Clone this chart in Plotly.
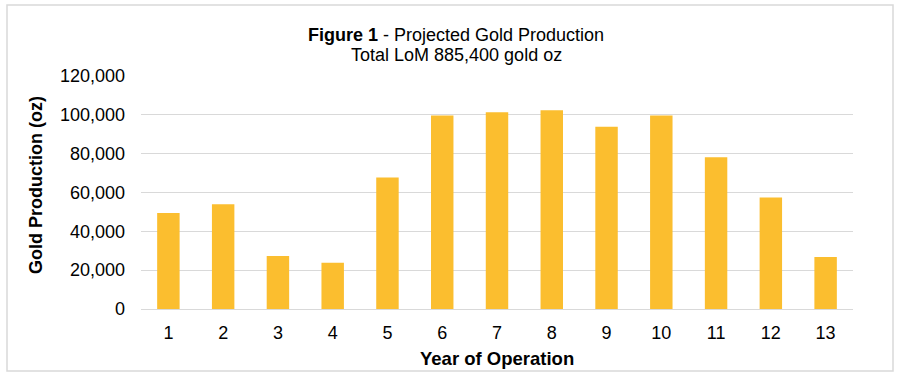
import plotly.graph_objects as go

years = [str(i) for i in range(1, 14)]
production = [49400, 54000, 27300, 23800, 67700, 99600, 101300, 102300, 93800, 99600, 78200, 57400, 26800]
y_ticks = [0, 20000, 40000, 60000, 80000, 100000, 120000]
y_tick_labels = ["0", "20,000", "40,000", "60,000", "80,000", "100,000", "120,000"]
title_line1 = "<b>Figure 1</b> - Projected Gold Production"
title_line2 = "Total LoM 885,400 gold oz"
y_title = "<b>Gold Production (oz)</b>"
x_title = "<b>Year of Operation</b>"

FONT = "Arial, 'Liberation Sans', sans-serif"
BAR_COLOR = "#FBBE2F"
GRID = "#D9D9D9"

fig = go.Figure(go.Bar(x=years, y=production, marker=dict(color=BAR_COLOR, line=dict(width=0)),
                       hoverinfo="x+y"))

L, R, T, B = 141, 47, 76, 70
W, H = 900, 379
pw, ph = W - L - R, H - T - B

def px_x(px):
    return (px - L) / pw

def px_y(py):
    return (H - B - py) / ph

fig.update_layout(
    width=W, height=H,
    margin=dict(l=L, r=R, t=T, b=B, pad=0),
    paper_bgcolor="white", plot_bgcolor="white",
    font=dict(family=FONT, size=18, color="#000000"),
    bargap=0.59,
    showlegend=False,
    xaxis=dict(
        type="category", showgrid=False, showline=True, linecolor=GRID, linewidth=1,
        ticks="", tickfont=dict(size=18), ticklabelstandoff=7, zeroline=False,
    ),
    yaxis=dict(
        range=[0, 120000], tickvals=y_ticks, ticktext=y_tick_labels,
        showgrid=True, gridcolor=GRID, gridwidth=1, zeroline=False, showline=False,
        ticks="", tickfont=dict(size=18), ticklabelstandoff=15,
    ),
    annotations=[
        dict(text=title_line1, xref="paper", yref="paper",
             x=px_x(456), y=px_y(34.5), xanchor="center", yanchor="middle", showarrow=False,
             font=dict(family=FONT, size=18, color="#000000")),
        dict(text=title_line2, xref="paper", yref="paper",
             x=px_x(456), y=px_y(55), xanchor="center", yanchor="middle", showarrow=False,
             font=dict(family=FONT, size=18, color="#000000")),
        dict(text=y_title, textangle=-90, xref="paper", yref="paper",
             x=px_x(36), y=px_y(185), xanchor="center", yanchor="middle", showarrow=False,
             font=dict(family=FONT, size=18, color="#000000")),
        dict(text=x_title, xref="paper", yref="paper",
             x=px_x(497), y=px_y(358), xanchor="center", yanchor="middle", showarrow=False,
             font=dict(family=FONT, size=18.5, color="#000000")),
    ],
    shapes=[
        dict(type="rect", xref="paper", yref="paper",
             x0=px_x(7), x1=px_x(893), y0=px_y(371), y1=px_y(5),
             line=dict(color=GRID, width=1.5), fillcolor="rgba(0,0,0,0)", layer="below"),
    ],
)

fig.write_html("out.html", config={"displayModeBar": False},
               post_script="document.body.style.margin='0';document.body.style.overflow='hidden';")
